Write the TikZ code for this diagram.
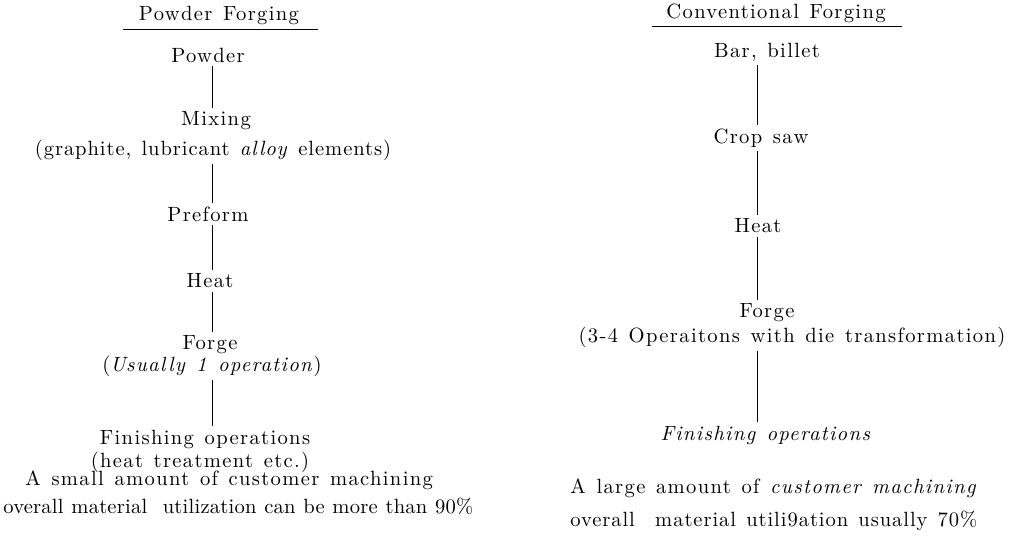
\documentclass[tikz,border=0pt]{standalone}
\usepackage{fontspec}
\newfontfamily\widefont{lmroman10}[Extension=.otf, UprightFont=*-regular, ItalicFont=*-italic, BoldFont=*-bold, LetterSpace=6.5, WordSpace=1.3]
\newfontfamily\midfont{lmroman10}[Extension=.otf, UprightFont=*-regular, ItalicFont=*-italic, BoldFont=*-bold, LetterSpace=4.5, WordSpace=1.3]
\newfontfamily\narrowfont{lmroman10}[Extension=.otf, UprightFont=*-regular, ItalicFont=*-italic, BoldFont=*-bold, LetterSpace=1, WordSpace=1.1]
\begin{document}
\begin{tikzpicture}[x=0.5pt,y=-0.5pt,
  txt/.style={inner sep=1.5pt,font=\widefont\fontsize{10.3}{12}\selectfont},
  conn/.style={line width=0.45pt}]
\useasboundingbox (0,0) rectangle (1012,539);
% left column
\coordinate (L) at (212,0);
\node[txt] (t1) at (219,15) {Powder Forging};
\draw[conn] (123,29) -- (318,29);
\node[txt] (powder) at (208,55) {Powder};
\node[txt] (mix) at (216,121) {Mixing};
\node[txt,font=\midfont\fontsize{10.3}{12}\selectfont] (mixn) at (213,150) {(graphite, lubricant \textit{alloy} elements)};
\node[txt] (pre) at (208,214) {Preform};
\node[txt] (heat) at (210,281) {Heat};
\node[txt] (forge) at (210,345) {Forge};
\node[txt] (forgen) at (212,366) {(\textit{Usually 1 operation})};
\node[txt] (fin) at (205,439) {Finishing operations};
\node[txt] (finn) at (200,462) {(heat treatment etc.)};
\node[txt,anchor=west] (sum1) at (22,480) {A small amount of customer machining};
\node[txt,anchor=west,font=\narrowfont\fontsize{10.3}{12}\selectfont] (sum2) at (0,506) {overall material\ \ utilization can be more than 90\%};
\draw[conn] (L |- powder.south) -- (L |- mix.north);
\draw[conn] (L |- mixn.south) -- (L |- pre.north);
\draw[conn] (L |- pre.south) -- (L |- heat.north);
\draw[conn] (L |- heat.south) -- (L |- forge.north);
\draw[conn] (L |- forgen.south) -- (L |- fin.north);
% right column
\coordinate (R) at (757,0);
\node[txt] (t2) at (776,13) {Conventional Forging};
\draw[conn] (652,26) -- (902,26);
\node[txt] (bar) at (767,52) {Bar, billet};
\node[txt] (crop) at (761,138) {Crop saw};
\node[txt] (rheat) at (758,226) {Heat};
\node[txt] (rforge) at (767,313) {Forge};
\node[txt] (rforgen) at (792,337) {(3-4 Operaitons with die transformation)};
\node[txt] (rfin) at (766,435) {\textit{Finishing operations}};
\node[txt,anchor=west] (rsum1) at (567,488) {A large amount of \textit{customer machining}};
\node[txt,anchor=west,font=\midfont\fontsize{10.3}{12}\selectfont] (rsum2) at (567,521) {overall\ \ material utili9ation usually 70\%};
\draw[conn] (R |- bar.south) -- (R |- crop.north);
\draw[conn] (R |- crop.south) -- (R |- rheat.north);
\draw[conn] (R |- rheat.south) -- (R |- rforge.north);
\draw[conn] (R |- rforgen.south) -- (R |- rfin.north);
\end{tikzpicture}
\end{document}
